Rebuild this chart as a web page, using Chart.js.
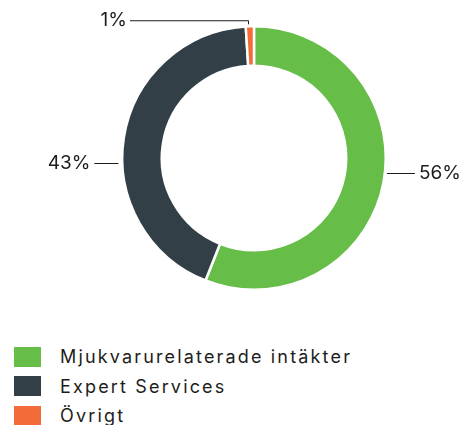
<!DOCTYPE html>
<html>
<head>
<meta charset="utf-8">
<script src="https://cdn.jsdelivr.net/npm/chart.js@4/dist/chart.umd.min.js"></script>
<style>
  html, body { margin: 0; padding: 0; background: #fff; }
  body { width: 464px; height: 425px; position: relative; overflow: hidden; font-family: Inter, "Open Sans", sans-serif; }
  #wrap { position: absolute; left: 0; top: 0; width: 464px; height: 330px; }
  #legend { position: absolute; left: 14px; top: 342px; margin: 0; padding: 0; list-style: none; }
  #legend li { display: flex; align-items: center; height: 29.5px; line-height: 29.5px; font-size: 18px; color: #1d1d1b; white-space: nowrap; }
  #legend .box { width: 27px; height: 20px; margin-right: 19px; flex: none; }
</style>
</head>
<body>
<div id="wrap"><canvas id="donut" width="464" height="330"></canvas></div>
<ul id="legend"></ul>
<script>
// Data
const categories = ["Mjukvarurelaterade intäkter", "Expert Services", "Övrigt"];
const shares = [56, 43, 1];
const colors = ["#66bd47", "#333f47", "#f26b38"];

const labelFont = "19px Inter, 'Open Sans', sans-serif";

// letter spacing so a string spans the wanted width
function fitSpacing(text, font, target) {
  const c = document.createElement("canvas").getContext("2d");
  c.font = font;
  const w = c.measureText(text).width;
  return Math.max(0, (target - w) / text.length);
}

// Leader lines and percentage labels, placed around the ring
const pctLabels = {
  id: "pctLabels",
  afterDatasetsDraw(chart) {
    const ctx = chart.ctx;
    const meta = chart.getDatasetMeta(0);
    const arc0 = meta.data[0];
    const cx = arc0.x, cy = arc0.y, r = arc0.outerRadius;
    ctx.save();
    ctx.strokeStyle = "#1d1d1b";
    ctx.lineWidth = 1;
    ctx.fillStyle = "#1d1d1b";
    ctx.font = labelFont;
    ctx.letterSpacing = fitSpacing("56%", labelFont, 42).toFixed(2) + "px";
    ctx.textBaseline = "middle";

    const txt = shares.map(v => v + "%");

    // 56% on the right
    let y = cy + 15;
    let x0 = cx + Math.sqrt(r * r - 15 * 15) + 2;
    ctx.beginPath();
    ctx.moveTo(x0, y + 0.5);
    ctx.lineTo(x0 + 28, y + 0.5);
    ctx.stroke();
    ctx.textAlign = "left";
    ctx.fillText(txt[0], x0 + 32, y);

    // 43% on the left
    y = cy + 5;
    x0 = cx - Math.sqrt(r * r - 5 * 5) - 4;
    ctx.beginPath();
    ctx.moveTo(x0, y + 0.5);
    ctx.lineTo(x0 - 24, y + 0.5);
    ctx.stroke();
    ctx.textAlign = "right";
    ctx.fillText(txt[1], x0 - 28, y);

    // 1% at the top
    const a = meta.data[2];
    const mid = (a.startAngle + a.endAngle) / 2;
    const px = Math.round(cx + Math.cos(mid) * r) - 1.5;
    const py = cy + Math.sin(mid) * r - 2;
    const ly = cy - r - 6;
    ctx.beginPath();
    ctx.moveTo(px, py);
    ctx.lineTo(px, ly + 0.5);
    ctx.lineTo(130, ly + 0.5);
    ctx.stroke();
    ctx.fillText(txt[2], 127, ly);
    ctx.restore();
  }
};

const chart = new Chart(document.getElementById("donut"), {
  type: "doughnut",
  data: {
    labels: categories,
    datasets: [{
      data: shares,
      backgroundColor: colors,
      borderColor: "#ffffff",
      borderWidth: 2.5,
      hoverOffset: 0
    }]
  },
  options: {
    responsive: false,
    animation: false,
    cutout: "70%",
    layout: { padding: { left: 121, right: 77, top: 25, bottom: 39 } },
    plugins: {
      legend: { display: false },
      tooltip: { enabled: false }
    }
  },
  plugins: [pctLabels]
});

// HTML legend built from the chart
const legend = document.getElementById("legend");
const legSpacing = fitSpacing(categories[0], "18px Inter, 'Open Sans', sans-serif", 292);
categories.forEach((name, i) => {
  const li = document.createElement("li");
  li.style.letterSpacing = legSpacing.toFixed(2) + "px";
  const box = document.createElement("span");
  box.className = "box";
  box.style.background = colors[i];
  li.appendChild(box);
  li.appendChild(document.createTextNode(name));
  legend.appendChild(li);
});
</script>
</body>
</html>
